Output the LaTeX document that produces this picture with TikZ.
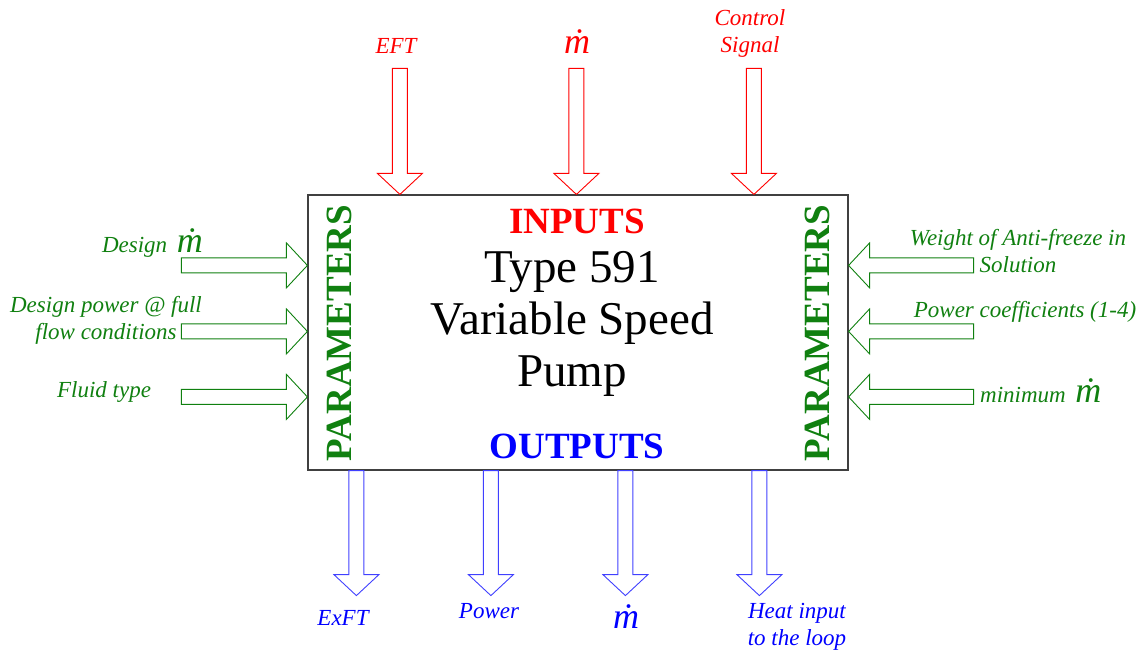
\documentclass[tikz,border=0pt]{standalone}
\usepackage{fontspec}
\setmainfont{Liberation Serif}
\usetikzlibrary{positioning,calc}
\definecolor{pmpRed}{HTML}{FF0000}
\definecolor{pmpGreen}{HTML}{108010}
\definecolor{pmpBlue}{HTML}{0000FF}
\definecolor{pmpEdge}{HTML}{404040}
\tikzset{
  pics/blockarrow/.style={code={
    \draw[line width=0.9pt] (0,0) -- (-21,22.5) -- (-21,7.5) -- (-#1,7.5) -- (-#1,-7.5)
      -- (-21,-7.5) -- (-21,-22.5) -- cycle;}},
  lbl/.style={font=\fontsize{23}{27}\selectfont\itshape,align=center,inner sep=0pt},
  mdot/.style={font=\fontsize{36}{36}\selectfont\itshape,inner sep=0pt},
  bighead/.style={font=\fontsize{37}{37}\selectfont\bfseries,inner sep=0pt},
}
\newcommand{\mflow}{{\fontsize{36}{36}\selectfont\.{m}}}

\begin{document}
\begin{tikzpicture}[x=1pt,y=-1pt]
\useasboundingbox (0,0) rectangle (1147,651);
\node[draw=pmpEdge,line width=1.2pt,minimum width=540,minimum height=275,inner sep=0pt] (pump) at (578,332.5) {};
\node[font=\fontsize{47}{52}\selectfont,align=center,inner sep=0pt,anchor=base] (title) at (572,386) {Type 591\\Variable Speed\\Pump};
\node[bighead,pmpRed,anchor=base] (inp) at (577,233) {INPUTS};
\node[bighead,pmpBlue,anchor=base] (outp) at (577,458) {OUTPUTS};
\node[bighead,pmpGreen,rotate=90] (parl) at (339,333) {PARAMETERS};
\node[bighead,pmpGreen,rotate=90] (parr) at (817,333) {PARAMETERS};
\foreach \dx in {92.5,269,446.5}
  \pic[pmpRed,rotate=-90] at ($(pump.north west)+(\dx,0)$) {blockarrow=126};
\foreach \dx in {49,183.5,318,452}
  \pic[pmpBlue!75,rotate=-90] at ($(pump.south west)+(\dx,125)$) {blockarrow=125};
\foreach \dy in {71,137,202.5} {
  \pic[pmpGreen] at ($(pump.north west)+(0,\dy)$) {blockarrow=126};
  \pic[pmpGreen,rotate=180] at ($(pump.north east)+(0,\dy)$) {blockarrow=125};
}
\node[lbl,pmpRed,anchor=base] (eft) at (396,53) {EFT};
\node[mdot,pmpRed,anchor=base] (min) at (577,53) {\.{m}};
\node[lbl,pmpRed,anchor=base] (ctrl) at (750,52) {Control\\Signal};
\node[lbl,pmpGreen,anchor=base east] (dsgn) at (203,252) {Design \,\mflow};
\node[lbl,pmpGreen,anchor=base] (dpow) at (106,339) {Design power @ full\\flow conditions};
\node[lbl,pmpGreen,anchor=base] (fluid) at (104,397) {Fluid type};
\node[lbl,pmpGreen,anchor=base] (wght) at (1018,272) {Weight of Anti-freeze in\\Solution};
\node[lbl,pmpGreen,anchor=base] (coef) at (1025,317) {Power coefficients (1-4)};
\node[lbl,pmpGreen,anchor=base west] (mmin) at (980,402) {minimum \,\mflow};
\node[lbl,pmpBlue,anchor=base] (exft) at (343,625) {ExFT};
\node[lbl,pmpBlue,anchor=base] (pwr) at (489,618) {Power};
\node[mdot,pmpBlue,anchor=base] (mout) at (626,628) {\.{m}};
\node[lbl,pmpBlue,anchor=base] (heat) at (797,645) {Heat input\\to the loop};
\end{tikzpicture}
\end{document}
